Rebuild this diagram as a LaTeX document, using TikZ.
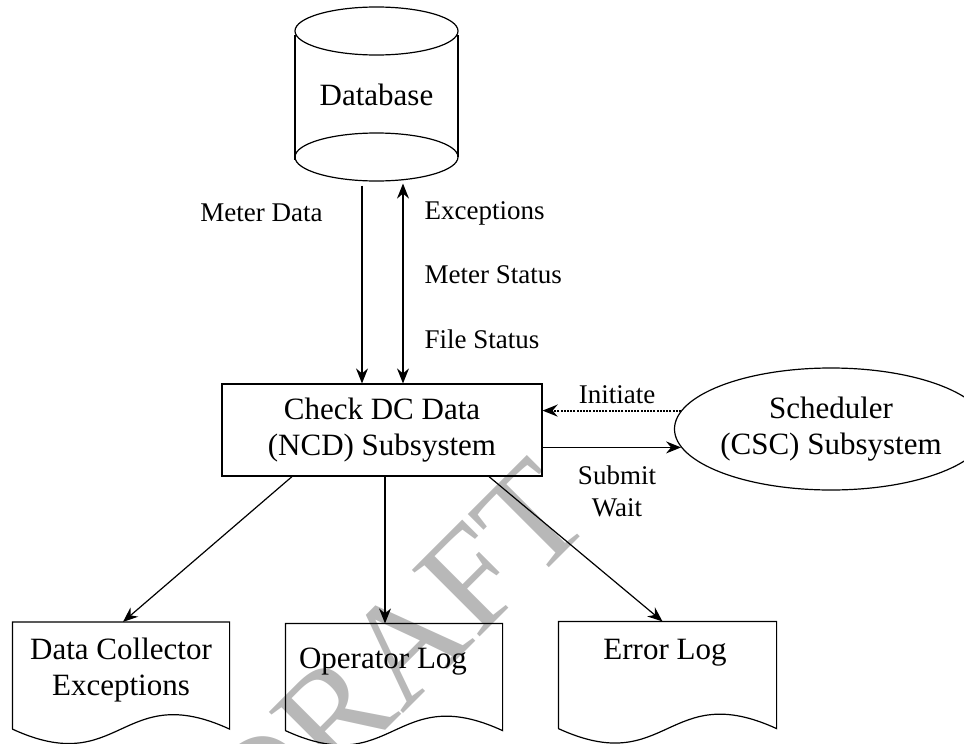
\documentclass[tikz,border=0pt]{standalone}
\usepackage{fontspec}
\setmainfont{Liberation Serif}
\usetikzlibrary{arrows.meta,shapes.geometric,calc}
\begin{document}
\begin{tikzpicture}[x=1pt,y=-1pt,
  line width=1.2pt,
  tip/.tip={Stealth[length=15pt,width=12pt,inset=5pt]},
  arr/.style={-tip},
  arrb/.style={tip-tip},
  lbl/.style={font=\fontsize{27}{32}\selectfont, inner sep=0pt},
  ntext/.style={font=\fontsize{31}{36}\selectfont, align=center},
  proc/.style={draw, minimum width=320pt, minimum height=92pt, inner sep=0pt},
  docbox/.style={inner sep=0pt, minimum height=106pt},
  wmark/.style={text=black!28, rotate=45, font=\fontsize{145}{145}\selectfont, inner sep=0pt}
]
\useasboundingbox (0,0) rectangle (964,744);

% watermark
\node[wmark] (wm) at (394,655) {DRAFT};

% database cylinder
\node[inner sep=0pt, minimum width=163pt, minimum height=175pt, ntext] (db) at (376.5,94.5) {Database};
\draw (376.5,31) ellipse [x radius=81.5pt, y radius=24pt];
\draw (295,35) -- (295,160);
\draw (458,35) -- (458,157);
\draw (376.5,157) ellipse [x radius=81.5pt, y radius=24pt];

% process box
\node[proc, ntext] (box) at (382,430) {Check DC Data\\(NCD) Subsystem};

% scheduler
\node[draw, ellipse, minimum width=262pt, minimum height=122pt, inner sep=0pt, ntext] (sch) at (831,429) {Scheduler\\(CSC) Subsystem};

% documents
\node[docbox, minimum width=216pt] (dce) at (121,675.5) {};
\node[docbox, minimum width=216pt] (opl) at (394,677) {};
\node[docbox, minimum width=217pt] (err) at (667.5,675) {};
\foreach \n in {dce,opl,err}
  \draw (\n.south west) -- (\n.north west) -- (\n.north east) -- (\n.south east)
    .. controls ($(\n.south)+(0,-50)$) and ($(\n.south)+(0,50)$) .. (\n.south west);
\node[ntext] (dcet) at (121,670) {Data Collector\\Exceptions};
\node[ntext] (oplt) at (383,662) {Operator Log};
\node[ntext] (errt) at (665,653) {Error Log};

% labels
\node[lbl] (lmd) at (261.5,213) {Meter Data};
\node[lbl, anchor=west] (lex) at (424,213) {Exceptions};
\node[lbl, anchor=west] (lms) at (424,275) {Meter Status};
\node[lbl, anchor=west] (lfs) at (424,339) {File Status};
\node[lbl] (lin) at (617,395) {Initiate};
\node[lbl, align=center] (lsw) at (617,491) {Submit\\Wait};

% connectors
\draw[arr] ([xshift=-14.5pt,yshift=-3pt]db.south) -- ([xshift=-20pt]box.north);
\draw[arrb] ([xshift=21pt]box.north) -- ([xshift=26.5pt,yshift=-1pt]db.south);
\draw[arr, line width=2pt, dash pattern=on 2pt off 1.2pt] (sch.173) -- (sch.173 -| box.east);
\draw[arr] (box.east |- sch.187) -- (sch.187);
\draw[arr] ([xshift=-90pt]box.south) -- ([xshift=2pt]dce.north);
\draw[arr] ([xshift=3pt]box.south) -- ([xshift=3pt]box.south |- opl.north);
\draw[arr] ([xshift=107pt]box.south) -- ([xshift=-5pt]err.north);
\end{tikzpicture}
\end{document}
